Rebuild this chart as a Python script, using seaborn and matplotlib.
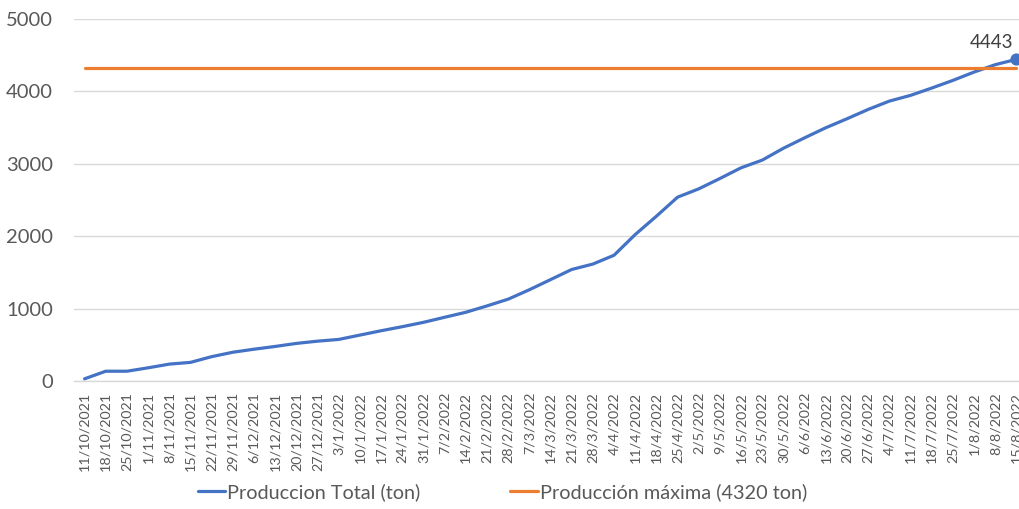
import numpy as np
import pandas as pd
import matplotlib
matplotlib.use("Agg")
import matplotlib.pyplot as plt
import seaborn as sns
from matplotlib.lines import Line2D

fechas = ["11/10/2021", "18/10/2021", "25/10/2021", "1/11/2021", "8/11/2021", "15/11/2021",
          "22/11/2021", "29/11/2021", "6/12/2021", "13/12/2021", "20/12/2021", "27/12/2021",
          "3/1/2022", "10/1/2022", "17/1/2022", "24/1/2022", "31/1/2022", "7/2/2022",
          "14/2/2022", "21/2/2022", "28/2/2022", "7/3/2022", "14/3/2022", "21/3/2022",
          "28/3/2022", "4/4/2022", "11/4/2022", "18/4/2022", "25/4/2022", "2/5/2022",
          "9/5/2022", "16/5/2022", "23/5/2022", "30/5/2022", "6/6/2022", "13/6/2022",
          "20/6/2022", "27/6/2022", "4/7/2022", "11/7/2022", "18/7/2022", "25/7/2022",
          "1/8/2022", "8/8/2022", "15/8/2022"]

produccion_total = [30, 135, 135, 182, 233, 257, 336, 397, 439, 477, 519, 550,
                    574, 634, 694, 750, 810, 880, 949, 1037, 1130, 1260, 1400, 1540,
                    1615, 1737, 2023, 2276, 2539, 2654, 2797, 2945, 3051, 3215, 3359,
                    3498, 3622, 3751, 3866, 3945, 4046, 4152, 4267, 4369, 4443]

produccion_maxima = 4320
y_ticks = [0, 1000, 2000, 3000, 4000, 5000]

label_total = "Produccion Total (ton)"
label_max = "Producción máxima (4320 ton)"

sns.set_theme(style="white")
plt.rcParams["font.family"] = ["Lato", "DejaVu Sans"]

pos = np.arange(len(fechas))
df = pd.DataFrame({
    "pos": np.concatenate([pos, pos]),
    "valor": np.concatenate([produccion_total, np.full(len(fechas), produccion_maxima)]),
    "serie": [label_total] * len(fechas) + [label_max] * len(fechas),
})

fig = plt.figure(figsize=(10.19, 5.09), dpi=100)
ax = fig.add_axes([0.0726, 0.2515, 0.9353, 0.7112])

palette = {label_total: "#4472C4", label_max: "#ED7D31"}
sns.lineplot(data=df, x="pos", y="valor", hue="serie", palette=palette,
             linewidth=2.3, ax=ax, legend=False, zorder=3)

# last point marker + label
ax.scatter([pos[-1]], [produccion_total[-1]], s=60, color="#4472C4", zorder=4,
           edgecolor="#4472C4")
ax.annotate(f"{produccion_total[-1]}", (pos[-1], produccion_total[-1]),
            xytext=(-2, 6), textcoords="offset points", ha="right", va="bottom",
            fontsize=13.5, color="#404040")

ax.set_xlim(-0.5, len(fechas) - 0.5)
ax.set_ylim(0, 5000)
ax.set_yticks(y_ticks)
ax.set_yticklabels([str(v) for v in y_ticks], fontsize=14.5, color="#595959")
ax.set_xticks(pos)
ax.set_xticklabels(fechas, rotation=90, fontsize=10.3, color="#595959")
ax.tick_params(axis="y", length=0, pad=15)
ax.tick_params(axis="x", length=0, pad=8)
ax.set_xlabel("")
ax.set_ylabel("")

ax.grid(axis="y", color="#D9D9D9", linewidth=1)
ax.set_axisbelow(True)
for s in ["top", "right", "left"]:
    ax.spines[s].set_visible(False)
ax.spines["bottom"].set_color("#D9D9D9")
ax.spines["bottom"].set_linewidth(1)

handles = [Line2D([0], [0], color="#4472C4", lw=2.3),
           Line2D([0], [0], color="#ED7D31", lw=2.3)]
fig.legend(handles, [label_total, label_max], loc="lower center",
           bbox_to_anchor=(0.493, -0.02), ncol=2, frameon=False,
           fontsize=14.3, handlelength=1.4, handletextpad=0.1,
           columnspacing=4.5, labelcolor="#595959")

fig.savefig("out.png", dpi=100)
